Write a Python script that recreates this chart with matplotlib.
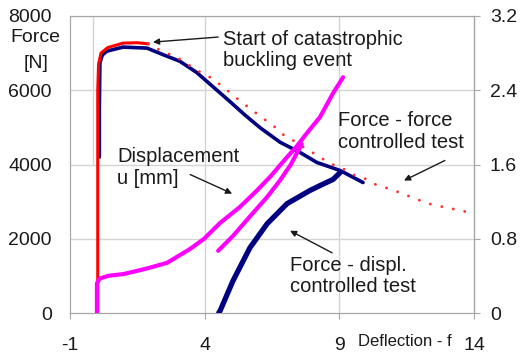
import numpy as np
import matplotlib
matplotlib.use("Agg")
import matplotlib.pyplot as plt

plt.rcParams['font.family'] = ['Liberation Sans', 'DejaVu Sans']
plt.rcParams['axes.unicode_minus'] = False

# Force - force controlled test (measured, solid red)
red_f = [0.03, 0.03, 0.03, 0.06, 0.15, 0.4, 0.97, 1.5, 1.9]
red_F = [0, 3000, 6000, 6700, 7000, 7150, 7270, 7280, 7250]

# Force - force controlled test (continuation, red dots)
dot_f = [1.9, 2.08, 2.45, 3.08, 3.7, 4.27, 4.79, 5.24, 5.72, 6.17, 6.58, 6.99,
         7.43, 7.73, 8.2, 8.47, 8.91, 9.29, 9.58, 9.95, 10.25, 10.59, 10.96,
         11.33, 11.74, 12.1, 12.44, 12.81, 13.18, 13.48, 13.93]
dot_F = [7250, 7162, 7054, 6838, 6540, 6324, 6027, 5757, 5486, 5243, 5027, 4757,
         4595, 4432, 4243, 4108, 3946, 3838, 3703, 3622, 3486, 3405, 3324,
         3216, 3108, 3000, 2919, 2865, 2811, 2757, 2703]

# Force - displ. controlled test, first run (navy)
blue_f = [0.09, 0.09, 0.11, 0.2, 0.37, 0.97, 1.86, 2.45, 3.08, 3.7, 4.3, 4.9,
          5.5, 6.06, 6.8, 7.54, 8.17, 9.03, 9.88]
blue_F = [4200, 5500, 6730, 6950, 7054, 7162, 7135, 6960, 6780, 6480, 6100, 5720,
          5330, 4990, 4600, 4324, 4054, 3838, 3514]

# Force - displ. controlled test, reloaded (navy)
blue2_f = [4.52, 4.57, 5.05, 5.68, 6.32, 7.06, 7.9, 8.28, 8.77, 9.03]
blue2_F = [0, 54, 865, 1757, 2405, 2946, 3297, 3432, 3600, 3784]

# Displacement u [mm] (right axis)
u1_f = [0.0, 0.0, 0.1, 0.41, 1.0, 1.86, 2.6, 3.46, 3.98, 4.57, 5.3, 5.94, 6.47,
        7.0, 7.43, 7.8, 8.28, 8.77, 9.14]
u1 = [0.0, 0.32, 0.37, 0.40, 0.42, 0.48, 0.54, 0.69, 0.80, 0.97, 1.14, 1.32,
      1.48, 1.66, 1.80, 1.94, 2.11, 2.37, 2.54]
u2_f = [4.5, 5.05, 5.68, 6.32, 6.8, 7.2, 7.6]
u2 = [0.67, 0.83, 1.04, 1.25, 1.43, 1.6, 1.82]

x_ticks = [-1, 4, 9, 14]
y_ticks = [0, 2000, 4000, 6000, 8000]
u_ticks = [0, 0.8, 1.6, 2.4, 3.2]

grid_c = '#d4d4d4'
spine_c = '#a6a6a6'
txt_c = '#1a1a1a'

fig = plt.figure(figsize=(5.2, 3.56), dpi=100)
ax = fig.add_axes([70 / 520, 1 - 313 / 356, 404 / 520, 297 / 356])
ax2 = ax.twinx()

ax.set_xlim(-1, 14)
ax.set_ylim(0, 8000)
ax2.set_ylim(0, 3.2)

# grid
for y in y_ticks[1:]:
    ax.axhline(y, color=grid_c, lw=1, zorder=0)
for x in x_ticks[1:3]:
    ax.axvline(x, color=grid_c, lw=1, zorder=0)
ax.axvline(-0.15, ymin=0.5, ymax=1, color=grid_c, lw=1, zorder=0)

# curves
ax.plot(blue_f, blue_F, color='#000080', lw=2.6, solid_capstyle='round', zorder=3)
ax.plot(blue2_f, blue2_F, color='#000080', lw=3.8, solid_capstyle='round', zorder=3)
ax.plot(red_f, red_F, color='#ff0000', lw=2.2, zorder=4)
ax.plot(dot_f, dot_F, color='#ff3030', lw=2.1, linestyle=(0, (0.01, 4.0)),
        dash_capstyle='round', zorder=5)
ax2.plot(u1_f, u1, color='#ff00ff', lw=3.0, solid_capstyle='round', zorder=3)
ax2.plot(u2_f, u2, color='#ff00ff', lw=3.0, solid_capstyle='round', zorder=3)

# axes styling
ax.set_xticks(x_ticks)
ax.set_yticks(y_ticks)
ax2.set_yticks(u_ticks)
ax2.set_yticklabels(['0', '0.8', '1.6', '2.4', '3.2'])
for s in ['left', 'top', 'bottom']:
    ax.spines[s].set_color(spine_c)
for s in ['left', 'top', 'bottom', 'right']:
    ax2.spines[s].set_color(spine_c)
ax.tick_params(axis='x', length=4, color=spine_c, pad=13, labelsize=14, labelcolor=txt_c)
ax.tick_params(axis='y', length=0, pad=13, labelsize=14, labelcolor=txt_c)
ax2.tick_params(axis='y', length=4.5, color=spine_c, pad=7, labelsize=14, labelcolor=txt_c)

# axis titles
fig.text(35 / 520, 1 - 38 / 356, 'Force', ha='center', va='center', fontsize=14, color=txt_c)
fig.text(36 / 520, 1 - 63 / 356, '[N]', ha='center', va='center', fontsize=14, color=txt_c)
fig.text(405 / 520, 1 - 341 / 356, 'Deflection - f', ha='center', va='center',
         fontsize=12, color=txt_c)

# annotations
fs = 14.5
ax.text(4.68, 7081, 'Start of catastrophic\nbuckling event', fontsize=fs,
        va='center', ha='left', color=txt_c, linespacing=1.15)
ax.text(0.745, 3919, 'Displacement\nu [mm]', fontsize=fs,
        va='center', ha='left', color=txt_c, linespacing=1.15)
ax.text(8.95, 4892, 'Force - force\ncontrolled test', fontsize=fs,
        va='center', ha='left', color=txt_c, linespacing=1.15)
ax.text(7.17, 1000, 'Force - displ.\ncontrolled test', fontsize=fs,
        va='center', ha='left', color=txt_c, linespacing=1.15)

arrows = [((4.5, 7433), (2.08, 7297)),
          ((3.46, 3730), (5.02, 3216)),
          ((12.92, 4108), (11.4, 3568)),
          ((8.73, 1622), (7.17, 2216))]
for tail, head in arrows:
    ax.annotate('', xy=head, xytext=tail,
                arrowprops=dict(arrowstyle='-|>', color='#1a1a1a', lw=1.0,
                                mutation_scale=9, shrinkA=0, shrinkB=0), zorder=6)

plt.savefig('out.png', dpi=100)
